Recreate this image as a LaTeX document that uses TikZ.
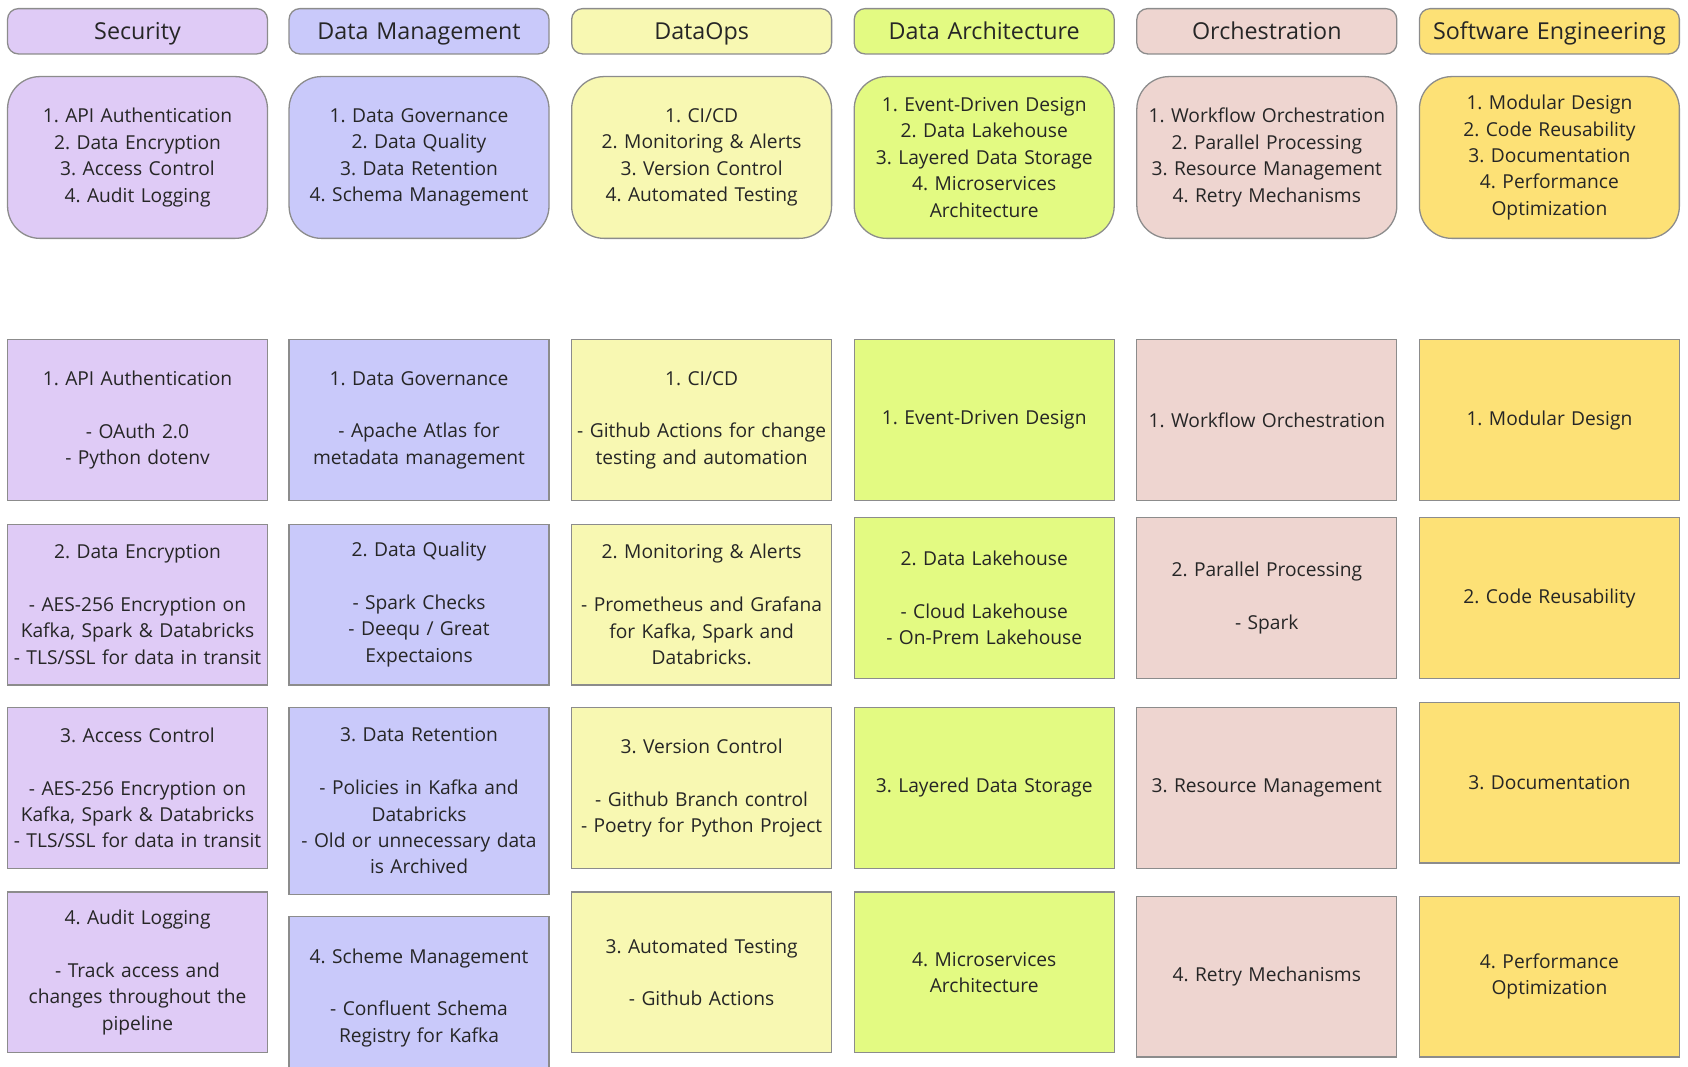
\documentclass[tikz,border=0pt]{standalone}
\usepackage{fontspec}
\setmainfont{Open Sans}
\frenchspacing
\hyphenpenalty=10000 \exhyphenpenalty=10000
\begin{document}
\begin{tikzpicture}[x=0.5pt,y=-0.5pt,
 base/.style={draw=black!45,line width=0.6pt,align=center,text width=121pt,inner sep=0pt,font=\fontsize{8.9}{12.25}\selectfont\frenchspacing,text=black!85},
 hd/.style={base,rounded corners=5pt,font=\fontsize{10.8}{13}\selectfont,text depth=0pt},
 sm/.style={base,rounded corners=15pt},
 dt/.style={base}]
\useasboundingbox (0,0) rectangle (1565,989);
\definecolor{cS}{HTML}{DFCBF6}\definecolor{cM}{HTML}{C9C9FA}\definecolor{cO}{HTML}{F8F8B2}
\definecolor{cA}{HTML}{E3FA82}\definecolor{cR}{HTML}{EED5D0}\definecolor{cE}{HTML}{FDE176}
\newcommand{\bx}[7]{\path[#2,fill=#3] (#4,#5) rectangle +(241,#6); \node[#2,draw=none] (#1) at (#4+120.5,#5+#6/2) {#7};}
\newcommand{\hx}[4]{\path[hd,fill=#2] (#3,8) rectangle +(241,42); \node[hd,draw=none,anchor=base] (#1) at (#3+120.5,37) {#4};}
% headers
\hx{hS}{cS}{7}{Security}
\hx{hM}{cM}{268}{Data Management}
\hx{hO}{cO}{530}{DataOps}
\hx{hA}{cA}{792}{Data Architecture}
\hx{hR}{cR}{1054}{Orchestration}
\hx{hE}{cE}{1316}{Software Engineering}
% summaries
\bx{sS}{sm}{cS}{7}{71}{150}{1. API Authentication\\2. Data Encryption\\3. Access Control\\4. Audit Logging}
\bx{sM}{sm}{cM}{268}{71}{150}{1. Data Governance\\2. Data Quality\\3. Data Retention\\4. Schema Management}
\bx{sO}{sm}{cO}{530}{71}{150}{1. CI/CD\\2. Monitoring \& Alerts\\3. Version Control\\4. Automated Testing}
\bx{sA}{sm}{cA}{792}{71}{150}{1. Event-Driven Design\\2. Data Lakehouse\\3. Layered Data Storage\\4. Microservices\\Architecture}
\bx{sR}{sm}{cR}{1054}{71}{150}{1. Workflow Orchestration\\2. Parallel Processing\\3. Resource Management\\4. Retry Mechanisms}
\bx{sE}{sm}{cE}{1316}{71}{150}{1. Modular Design\\2. Code Reusability\\3. Documentation\\4. Performance\\Optimization}
% Security
\bx{s1}{dt}{cS}{7}{315}{149}{1. API Authentication\\[12.25pt]- OAuth 2.0\\- Python dotenv}
\bx{s2}{dt}{cS}{7}{486}{149}{2. Data Encryption\\[12.25pt]- AES-256 Encryption on\\Kafka, Spark \& Databricks\\- TLS/SSL for data in transit}
\bx{s3}{dt}{cS}{7}{656}{149}{3. Access Control\\[12.25pt]- AES-256 Encryption on\\Kafka, Spark \& Databricks\\- TLS/SSL for data in transit}
\bx{s4}{dt}{cS}{7}{827}{149}{4. Audit Logging\\[12.25pt]- Track access and\\changes throughout the\\pipeline}
% Data Management
\bx{m1}{dt}{cM}{268}{315}{149}{1. Data Governance\\[12.25pt]- Apache Atlas for\\metadata management}
\bx{m2}{dt}{cM}{268}{486}{149}{2. Data Quality\\[12.25pt]- Spark Checks\\- Deequ / Great\\Expectaions}
\bx{m3}{dt}{cM}{268}{656}{173}{3. Data Retention\\[12.25pt]- Policies in Kafka and\\Databricks\\- Old or unnecessary data\\is Archived}
\bx{m4}{dt}{cM}{268}{850}{150}{4. Scheme Management\\[12.25pt]- Confluent Schema\\Registry for Kafka}
% DataOps
\bx{o1}{dt}{cO}{530}{315}{149}{1. CI/CD\\[12.25pt]- Github Actions for change\\testing and automation}
\bx{o2}{dt}{cO}{530}{486}{149}{2. Monitoring \& Alerts\\[12.25pt]- Prometheus and Grafana\\for Kafka, Spark and\\Databricks.}
\bx{o3}{dt}{cO}{530}{656}{149}{3. Version Control\\[12.25pt]- Github Branch control\\- Poetry for Python Project}
\bx{o4}{dt}{cO}{530}{827}{149}{3. Automated Testing\\[12.25pt]- Github Actions}
% Data Architecture
\bx{a1}{dt}{cA}{792}{315}{149}{1. Event-Driven Design}
\bx{a2}{dt}{cA}{792}{480}{149}{2. Data Lakehouse\\[12.25pt]- Cloud Lakehouse\\- On-Prem Lakehouse}
\bx{a3}{dt}{cA}{792}{656}{149}{3. Layered Data Storage}
\bx{a4}{dt}{cA}{792}{827}{149}{4. Microservices\\Architecture}
% Orchestration
\bx{r1}{dt}{cR}{1054}{315}{149}{1. Workflow Orchestration}
\bx{r2}{dt}{cR}{1054}{480}{149}{2. Parallel Processing\\[12.25pt]- Spark}
\bx{r3}{dt}{cR}{1054}{656}{149}{3. Resource Management}
\bx{r4}{dt}{cR}{1054}{831}{149}{4. Retry Mechanisms}
% Software Engineering
\bx{e1}{dt}{cE}{1316}{315}{149}{1. Modular Design}
\bx{e2}{dt}{cE}{1316}{480}{149}{2. Code Reusability}
\bx{e3}{dt}{cE}{1316}{651}{149}{3. Documentation}
\bx{e4}{dt}{cE}{1316}{831}{149}{4. Performance\\Optimization}
\end{tikzpicture}
\end{document}
